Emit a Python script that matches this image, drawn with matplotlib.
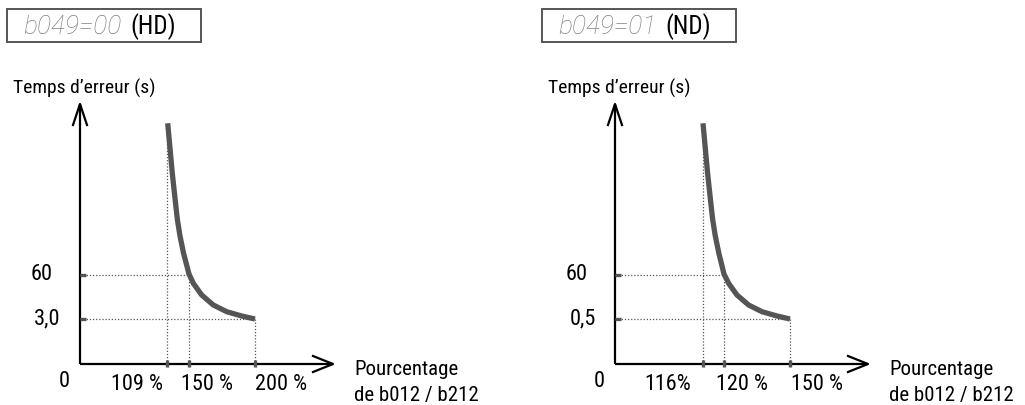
#!/usr/bin/env python3
"""
Overload trip-time curves (b049 = 00 HD / b049 = 01 ND).

Schematic drawing, not to scale: x and y are in drawing units
measured from the origin of each panel.
"""

import matplotlib.pyplot as plt
from matplotlib.patches import Rectangle
from matplotlib import font_manager

# ---- data -------------------------------------------------------------
panel_codes = ['b049=00', 'b049=01']
panel_modes = ['(HD)', '(ND)']

# x-axis marks (schematic position along the axis) and their labels
hd_x_ticks = [87, 109, 175]
hd_x_labels = ['109 %', '150 %', '200 %']
nd_x_ticks = [88, 109, 175]
nd_x_labels = ['116%', '120 %', '150 %']

# y-axis marks (schematic height) and their labels
y_ticks = [89, 45]
hd_y_labels = ['60', '3,0']
nd_y_labels = ['60', '0,5']

# inverse-time curve
hd_curve_x = [87.7, 90, 92.3, 95, 97.3, 100, 103.5, 109, 113.3, 121.7,
              133.3, 146.7, 161.7, 175]
hd_curve_y = [240.7, 215.7, 190.7, 165.7, 145, 128, 111, 90, 80.7, 69,
              59, 52.3, 48, 45]
nd_curve_x = [88, 90.3, 92.6, 95.3, 97.6, 100.3, 103.8, 109, 113.6, 122,
              133.6, 147, 162, 175]
nd_curve_y = [240.7, 215.7, 190.7, 165.7, 145, 128, 111, 90, 80.7, 69,
              59, 52.3, 48, 45]

y_title = "Temps d\u2019erreur (s)"
x_title = ['Pourcentage', 'de b012 / b212']

# ---- style ------------------------------------------------------------
names = {f.name for f in font_manager.fontManager.ttflist}
FONT = 'Liberation Sans'
for cand in ['Roboto Condensed', 'Archivo Narrow', 'PT Sans Narrow',
             'Barlow Semi Condensed', 'Liberation Sans Narrow']:
    if cand in names:
        FONT = cand
        break
plt.rcParams['font.family'] = [FONT, 'DejaVu Sans']

GREY = '#555555'
FS = 16


def draw_panel(ax, xlim, code, mode, xt, xl, yl, cx, cy, xl_centres):
    ax.set_xlim(xlim)
    ax.set_ylim(-41, 364)
    ax.axis('off')

    # header box
    ax.add_patch(Rectangle((-73, 322), 194, 33, fill=False,
                           edgecolor=GREY, linewidth=1.4))
    ax.text(-57, 337, code, fontsize=19, style='italic', color='#808080',
            va='center', family=['Roboto', 'DejaVu Sans'], fontweight='light')
    ax.text(50, 337, mode, fontsize=18, va='center', color='black')

    # axes with arrow heads
    ax.plot([0, 0], [0, 260], color='black', lw=1.6, solid_capstyle='butt')
    ax.plot([-7, 0, 7], [239, 260, 239], color='black', lw=1.6)
    ax.plot([0, 253], [0, 0], color='black', lw=1.6, solid_capstyle='butt')
    ax.plot([233, 253, 233], [8, 0, -8], color='black', lw=1.6)

    # dotted guides
    dot = dict(ls=(0, (1, 1.5)), color=GREY, lw=0.9)
    ax.plot([xt[0], xt[0]], [0, cy[0]], **dot)
    ax.plot([xt[1], xt[1]], [0, y_ticks[0]], **dot)
    ax.plot([xt[2], xt[2]], [0, y_ticks[1]], **dot)
    ax.plot([0, xt[1]], [y_ticks[0], y_ticks[0]], **dot)
    ax.plot([0, xt[2]], [y_ticks[1], y_ticks[1]], **dot)

    # tick marks
    for x in xt:
        ax.plot([x, x], [-3, 4], color=GREY, lw=2.4, solid_capstyle='butt')
    for y in y_ticks:
        ax.plot([0, 6], [y, y], color=GREY, lw=2.4, solid_capstyle='butt')

    # curve
    ax.plot(cx, cy, color=GREY, lw=3.8, solid_capstyle='butt',
            solid_joinstyle='round')

    # labels
    ax.text(-16, -23, '0', fontsize=FS, ha='center', va='baseline')
    for lab, xc in zip(xl, xl_centres):
        ax.text(xc, -26, lab, fontsize=FS, ha='center', va='baseline')
    for lab, y, xc in zip(yl, y_ticks, [-38.5, -32.5]):
        ax.text(xc, y, lab, fontsize=FS, ha='center', va='center')
    ax.text(-67, 276, y_title, fontsize=14, ha='left', va='center')
    ax.text(274, -11, x_title[0], fontsize=15, ha='left', va='baseline')
    ax.text(274, -37, x_title[1], fontsize=15, ha='left', va='baseline')


fig = plt.figure(figsize=(10.25, 4.05), dpi=100)

ax1 = fig.add_axes([0, 0, 512 / 1025, 1])
draw_panel(ax1, (-80, 432), panel_codes[0], panel_modes[0], hd_x_ticks,
           hd_x_labels, hd_y_labels, hd_curve_x, hd_curve_y, [57, 127, 201])

ax2 = fig.add_axes([512 / 1025, 0, 513 / 1025, 1])
draw_panel(ax2, (-103, 410), panel_codes[1], panel_modes[1], nd_x_ticks,
           nd_x_labels, nd_y_labels, nd_curve_x, nd_curve_y, [53, 127, 202])

fig.savefig('out.png', dpi=100)
